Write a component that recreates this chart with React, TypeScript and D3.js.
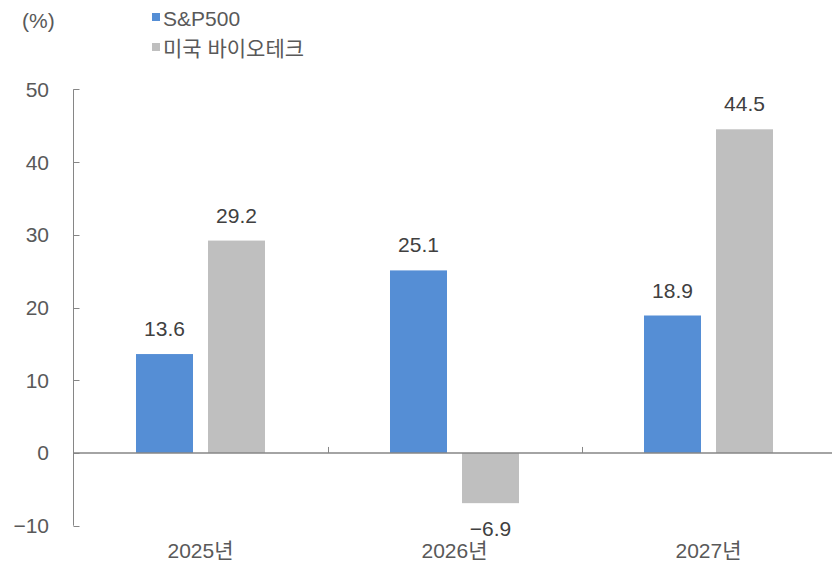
import React, { useEffect, useRef } from "react";
import * as d3 from "d3";

const categories = ["2025년", "2026년", "2027년"];
const seriesNames = ["S&P500", "미국 바이오테크"];
const sp500 = [13.6, 25.1, 18.9];
const biotech = [29.2, -6.9, 44.5];
const yTicks = [-10, 0, 10, 20, 30, 40, 50];

const colors = ["#558ED5", "#BFBFBF"];
const font = "'Liberation Sans', Arial, 'Noto Sans CJK KR', sans-serif";
const textColor = "#595959";

const App = () => {
    const ref = useRef<SVGSVGElement>(null);

    useEffect(() => {
        const svg = d3.select(ref.current);
        svg.selectAll("*").remove();

        const left = 73.5;
        const right = 835.5;
        const top = 89.3;
        const bottom = 525.7;

        const x0 = d3.scaleBand().domain(categories).range([left, right]).padding(0);
        const x1 = d3.scaleBand().domain(seriesNames).range([0, x0.bandwidth()])
            .paddingInner(0.2083).paddingOuter(0.868);
        const y = d3.scaleLinear().domain([-10, 50]).range([bottom, top]);

        const rows = categories.map((c, i) => ({ cat: c, values: [sp500[i], biotech[i]] }));

        // bars + value labels
        const g = svg.append("g");
        rows.forEach(r => {
            r.values.forEach((v, j) => {
                const bx = x0(r.cat)! + x1(seriesNames[j])!;
                g.append("rect")
                    .attr("x", bx)
                    .attr("width", x1.bandwidth())
                    .attr("y", y(Math.max(0, v)))
                    .attr("height", Math.abs(y(v) - y(0)))
                    .attr("fill", colors[j]);
                g.append("text")
                    .attr("x", bx + x1.bandwidth() / 2)
                    .attr("y", v >= 0 ? y(v) - 18 : y(v) + 33)
                    .attr("text-anchor", "middle")
                    .attr("font-family", font)
                    .attr("font-size", 21)
                    .attr("fill", "#404040")
                    .text(v < 0 ? "\u2212" + Math.abs(v).toFixed(1) : v.toFixed(1));
            });
        });

        // y axis
        const axisColor = "#868686";
        svg.append("line")
            .attr("x1", left).attr("x2", left)
            .attr("y1", y(50)).attr("y2", y(-10))
            .attr("stroke", axisColor).attr("stroke-width", 1);
        yTicks.forEach(t => {
            svg.append("line")
                .attr("x1", left).attr("x2", left + 6)
                .attr("y1", Math.round(y(t)) + 0.5).attr("y2", Math.round(y(t)) + 0.5)
                .attr("stroke", axisColor);
            svg.append("text")
                .attr("x", 49)
                .attr("y", y(t) + 7.5)
                .attr("text-anchor", "end")
                .attr("font-family", font)
                .attr("font-size", 21)
                .attr("fill", textColor)
                .text(t < 0 ? "\u2212" + Math.abs(t) : String(t));
        });

        // x axis at zero
        svg.append("line")
            .attr("x1", left).attr("x2", right)
            .attr("y1", y(0)).attr("y2", y(0))
            .attr("stroke", axisColor).attr("stroke-width", 1.5);
        categories.slice(1).forEach(c => {
            svg.append("line")
                .attr("x1", Math.round(x0(c)!) + 0.5).attr("x2", Math.round(x0(c)!) + 0.5)
                .attr("y1", y(0)).attr("y2", y(0) - 6)
                .attr("stroke", axisColor);
        });
        categories.forEach(c => {
            svg.append("text")
                .attr("x", x0(c)! + x0.bandwidth() / 2)
                .attr("y", 557.5)
                .attr("text-anchor", "middle")
                .attr("font-family", font)
                .attr("font-size", 21)
                .attr("fill", textColor)
                .text(c);
        });

        // unit
        svg.append("text")
            .attr("x", 22).attr("y", 28)
            .attr("font-family", font)
            .attr("font-size", 21)
            .attr("fill", textColor)
            .text("(%)");

        // legend
        const legend = svg.append("g").attr("transform", "translate(152,0)");
        seriesNames.forEach((s, i) => {
            legend.append("rect")
                .attr("x", 0).attr("y", 13 + i * 30)
                .attr("width", 8).attr("height", 8)
                .attr("fill", colors[i]);
            legend.append("text")
                .attr("x", 11).attr("y", 25.5 + i * 30)
                .attr("font-family", font)
                .attr("font-size", 21)
                .attr("fill", textColor)
                .text(s);
        });
    }, []);

    return (
        <svg ref={ref} width={832} height={565}
            style={{ position: "absolute", left: 0, top: 0, background: "#fff" }} />
    );
};

export default App;
